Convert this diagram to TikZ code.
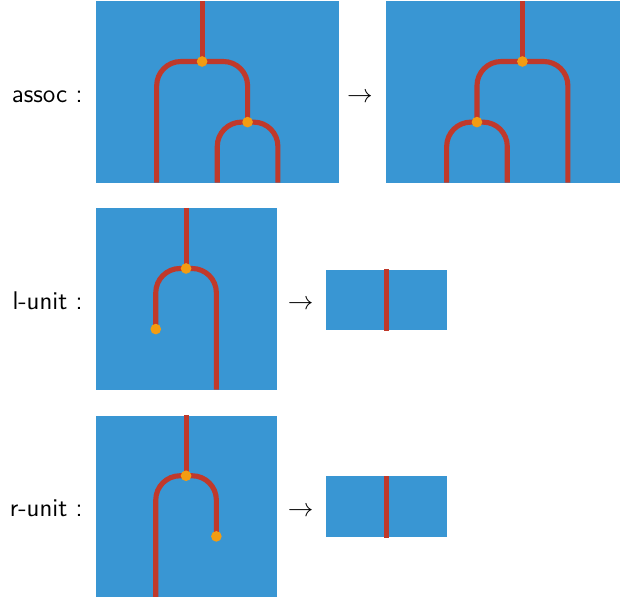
\documentclass[tikz,border=0pt]{standalone}
\usepackage{xcolor}
\usepackage{tikz}
\usepackage{amsmath}
\definecolor{sheetblue}{RGB}{57,150,211}
\definecolor{wirered}{RGB}{192,57,43}
\definecolor{dotorange}{RGB}{243,156,18}
\tikzset{
    sheet/.style = {rectangle, fill = sheetblue, inner sep = 0pt, anchor = north west},
    wide/.style = {minimum width = 4cm, minimum height = 3cm},
    square/.style = {minimum width = 3cm, minimum height = 3cm},
    flat/.style = {minimum width = 2cm, minimum height = 1cm},
    wire/.style = {draw = wirered, line width = 2.4pt, rounded corners = 0.4cm},
    vertex/.style = {circle, fill = dotorange, inner sep = 0pt, minimum size = 5pt},
    tag/.style = {font = \large\sffamily, inner sep = 0pt, anchor = base east},
    rewrite/.style = {font = \large, inner sep = 0pt, anchor = base}
}

\begin{document}
\begin{tikzpicture}[x = 0.5cm, y = -0.5cm]
    \useasboundingbox (0,0) rectangle (20.46,19.77);

    % assoc
    \node [tag] (tassoc) at (2.74,3.38) {assoc :};
    \node [sheet, wide] (assocL) at (3.17,0.03) {};
    \node [rewrite] (arrassoc) at (11.88,3.38) {$\to$};
    \node [sheet, wide] (assocR) at (12.74,0.03) {};
    \begin{scope}[shift = {(assocL.north west)}]
        \coordinate (aT) at (3.5,0);
        \coordinate (a1) at (3.5,2);
        \coordinate (a2) at (5,4);
        \coordinate (aB1) at (2,6);
        \coordinate (aB2) at (4,6);
        \coordinate (aB3) at (6,6);
        \draw [wire] (aT) -- (a1);
        \draw [wire] (aB1) -- (aB1 |- a1) -- (a2 |- a1) -- (a2);
        \draw [wire] (aB2) -- (aB2 |- a2) -- (aB3 |- a2) -- (aB3);
        \node [vertex] (va1) at (a1) {};
        \node [vertex] (va2) at (a2) {};
    \end{scope}
    \begin{scope}[shift = {(assocR.north west)}]
        \coordinate (bT) at (4.5,0);
        \coordinate (b1) at (4.5,2);
        \coordinate (b2) at (3,4);
        \coordinate (bB1) at (2,6);
        \coordinate (bB2) at (4,6);
        \coordinate (bB3) at (6,6);
        \draw [wire] (bT) -- (b1);
        \draw [wire] (b2) -- (b2 |- b1) -- (bB3 |- b1) -- (bB3);
        \draw [wire] (bB1) -- (bB1 |- b2) -- (bB2 |- b2) -- (bB2);
        \node [vertex] (vb1) at (b1) {};
        \node [vertex] (vb2) at (b2) {};
    \end{scope}

    % l-unit
    \node [tag] (tlunit) at (2.74,10.21) {l-unit :};
    \node [sheet, square] (lunitL) at (3.14,6.86) {};
    \node [rewrite] (arrlunit) at (9.92,10.21) {$\to$};
    \node [sheet, flat] (lunitR) at (10.73,8.88) {};
    \begin{scope}[shift = {(lunitL.north west)}]
        \coordinate (cT) at (3,0);
        \coordinate (c1) at (3,2);
        \coordinate (c2) at (2,4);
        \coordinate (cB) at (4,6);
        \draw [wire] (cT) -- (c1);
        \draw [wire] (c2) -- (c2 |- c1) -- (cB |- c1) -- (cB);
        \node [vertex] (vc1) at (c1) {};
        \node [vertex] (vc2) at (c2) {};
    \end{scope}
    \draw [wire] (lunitR.north) -- (lunitR.south);

    % r-unit
    \node [tag] (trunit) at (2.74,17.04) {r-unit :};
    \node [sheet, square] (runitL) at (3.14,13.70) {};
    \node [rewrite] (arrrunit) at (9.92,17.04) {$\to$};
    \node [sheet, flat] (runitR) at (10.73,15.71) {};
    \begin{scope}[shift = {(runitL.north west)}]
        \coordinate (eT) at (3,0);
        \coordinate (e1) at (3,2);
        \coordinate (e2) at (4,4);
        \coordinate (eB) at (2,6);
        \draw [wire] (eT) -- (e1);
        \draw [wire] (eB) -- (eB |- e1) -- (e2 |- e1) -- (e2);
        \node [vertex] (ve1) at (e1) {};
        \node [vertex] (ve2) at (e2) {};
    \end{scope}
    \draw [wire] (runitR.north) -- (runitR.south);
\end{tikzpicture}
\end{document}
